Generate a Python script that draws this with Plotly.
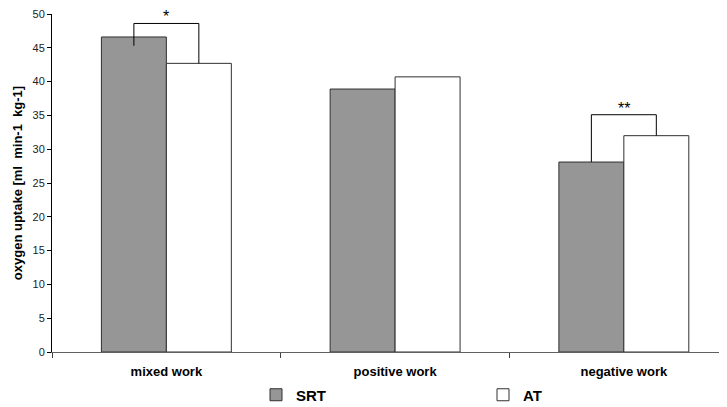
import plotly.graph_objects as go

categories = ["mixed work", "positive work", "negative work"]
srt_values = [46.6, 38.9, 28.1]
at_values = [42.7, 40.7, 32.0]
y_ticks = [0, 5, 10, 15, 20, 25, 30, 35, 40, 45, 50]

# significance brackets: category index, bracket top, SRT-leg bottom, AT-leg bottom, label
sig_cat = [0, 2]
sig_top = [48.6, 35.1]
sig_left_bottom = [45.3, 28.1]
sig_right_bottom = [42.7, 32.0]
sig_label = ["*", "**"]

bar_w = 0.284
font = "Liberation Sans, Arial, sans-serif"

fig = go.Figure()
fig.add_trace(go.Bar(name="SRT", x=categories, y=srt_values,
                     marker=dict(color="#969696", line=dict(color="#303030", width=1))))
fig.add_trace(go.Bar(name="AT", x=categories, y=at_values,
                     marker=dict(color="#ffffff", line=dict(color="#303030", width=1))))

for c, top, lb, rb, lab in zip(sig_cat, sig_top, sig_left_bottom, sig_right_bottom, sig_label):
    xl = c - bar_w / 2
    xr = c + bar_w / 2
    fig.add_trace(go.Scatter(x=[xl, xl, xr, xr], y=[lb, top, top, rb], mode="lines",
                             line=dict(color="black", width=1), xaxis="x2",
                             showlegend=False, hoverinfo="skip"))
    fig.add_annotation(x=c, y=top, xref="x2", yref="y", text=lab, showarrow=False,
                       yanchor="bottom", yshift=-4,
                       font=dict(family=font, size=16, color="black"))

xmax = 2.451
W, H = 719, 399  # the page body has an 8px margin, so the figure is sized 8px smaller
fig.update_layout(
    width=W, height=H,
    margin=dict(l=44, r=0, t=6, b=55, autoexpand=False),
    paper_bgcolor="white", plot_bgcolor="white",
    barmode="group", bargap=0.432, bargroupgap=0,
    font=dict(family=font, color="black"),
    xaxis=dict(range=[-0.5, xmax], tickson="boundaries", ticks="outside", ticklen=5,
               tickcolor="#404040", showline=True, linecolor="#606060", linewidth=1,
               showgrid=False, zeroline=False, automargin=False, ticklabelstandoff=7,
               tickfont=dict(family=font, size=13, color="black", weight="bold")),
    xaxis2=dict(range=[-0.5, xmax], overlaying="x", visible=False),
    yaxis=dict(range=[0, 50], tickvals=y_ticks, ticks="outside", ticklen=4,
               tickcolor="black", showline=True, linecolor="black", linewidth=1,
               showgrid=False, zeroline=False, automargin=False,
               ticklabeloverflow="allow",
               tickfont=dict(family=font, size=11, color="#222"),
               title=dict(text="oxygen uptake [ml  min-1  kg-1]", standoff=6,
                          font=dict(family=font, size=13, color="black", weight="bold"))),
    legend=dict(orientation="h", xref="container", yref="container",
                x=248 / W, xanchor="left", y=1 - 387 / H, yanchor="middle",
                entrywidth=182, entrywidthmode="pixels", itemwidth=30,
                font=dict(family=font, size=15, color="black", weight="bold"),
                bgcolor="rgba(0,0,0,0)"),
)

fig.write_html("out.html")
